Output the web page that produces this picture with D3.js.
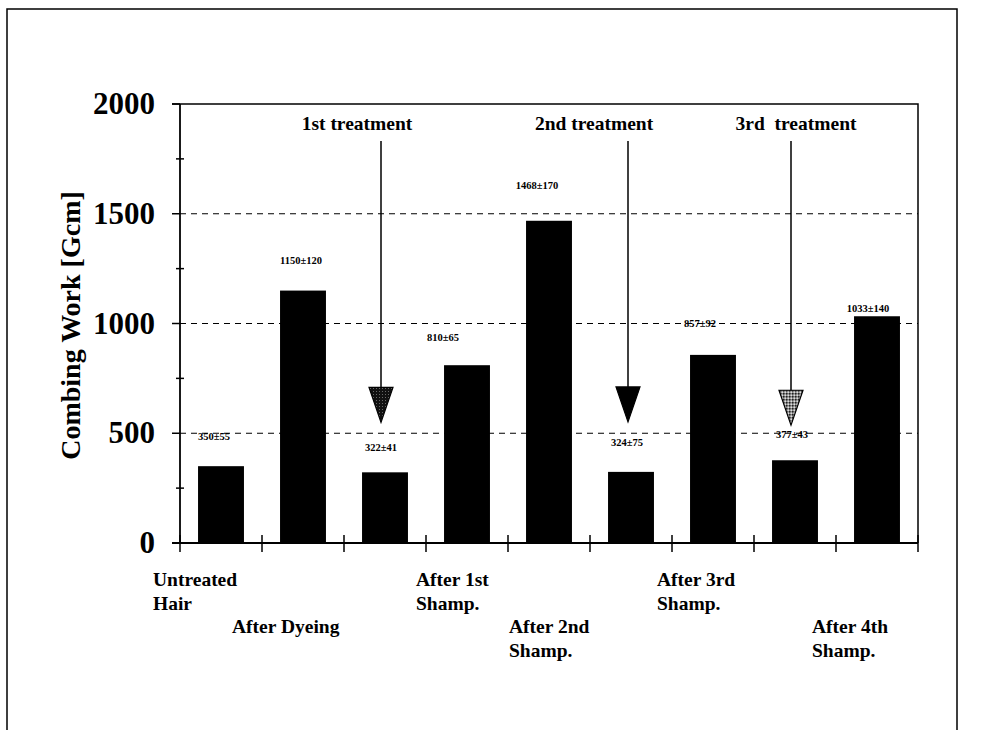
<!DOCTYPE html>
<html lang="en">
<head>
    <meta charset="UTF-8">
    <title>Combing work</title>
    <script src="https://cdn.jsdelivr.net/npm/d3@7.8.5/dist/d3.min.js"></script>
    <style>
        body { margin: 0; background: #fff; }
        text { font-family: "Liberation Serif", "Times New Roman", serif; font-weight: bold; fill: #000; }
    </style>
</head>
<body>
<div id="chart"></div>
<script type="text/javascript">
    // data
    const categories = ["Untreated Hair", "After Dyeing", "1st treatment", "After 1st Shamp.",
        "After 2nd Shamp.", "2nd treatment", "After 3rd Shamp.", "3rd treatment", "After 4th Shamp."];
    const values = [350, 1150, 322, 810, 1468, 324, 857, 377, 1033];
    const errors = [55, 120, 41, 65, 170, 75, 92, 43, 140];
    const tickValues = [0, 500, 1000, 1500, 2000];
    const minorTicks = [250, 750, 1250, 1750];
    // category labels, line by line (empty for treatment steps)
    const catLines = [["Untreated", "Hair"], ["", "", "After Dyeing"], [], ["After 1st", "Shamp."],
        ["", "", "After 2nd", "Shamp."], [], ["After 3rd", "Shamp."], [], ["", "", "After 4th", "Shamp."]];
    const treatments = ["1st treatment", "2nd treatment", "3rd  treatment"];
    const treatmentIdx = [2, 5, 7];

    const width = 985, height = 730;
    const margin = {top: 104, right: 67, bottom: 187, left: 180};

    const svg = d3.select('#chart').append('svg')
        .attr('width', width).attr('height', height);

    // patterns for the arrow heads
    const defs = svg.append('defs');
    const p1 = defs.append('pattern').attr('id', 'dots1').attr('width', 3).attr('height', 3)
        .attr('patternUnits', 'userSpaceOnUse');
    p1.append('rect').attr('width', 3).attr('height', 3).attr('fill', '#111');
    p1.append('rect').attr('x', 1).attr('y', 1).attr('width', 1).attr('height', 1).attr('fill', '#666');
    const p2 = defs.append('pattern').attr('id', 'dots2').attr('width', 3).attr('height', 3)
        .attr('patternUnits', 'userSpaceOnUse');
    p2.append('rect').attr('width', 3).attr('height', 3).attr('fill', '#888');
    p2.append('rect').attr('x', 0).attr('y', 0).attr('width', 1.5).attr('height', 1.5).attr('fill', '#222');
    p2.append('rect').attr('x', 1.5).attr('y', 1.5).attr('width', 1.5).attr('height', 1.5).attr('fill', '#ddd');

    // outer frame
    svg.append('path')
        .attr('d', 'M7,740 V9 H957 V740')
        .attr('fill', 'none').attr('stroke', '#000').attr('stroke-width', 1.5);

    const x = d3.scaleBand()
        .domain(d3.range(categories.length))
        .range([margin.left, width - margin.right])
        .paddingInner(0.44).paddingOuter(0.22);
    const xStep = d3.scaleLinear().domain([0, categories.length])
        .range([margin.left, width - margin.right]);
    const y = d3.scaleLinear().domain([0, 2000])
        .range([height - margin.bottom, margin.top]);

    const g = svg.append('g');

    // dashed gridlines
    g.selectAll('.grid').data([500, 1000, 1500]).enter().append('line')
        .attr('x1', margin.left).attr('x2', width - margin.right)
        .attr('y1', d => y(d)).attr('y2', d => y(d))
        .attr('stroke', '#000').attr('stroke-width', 1.2).attr('stroke-dasharray', '6,5');

    // top and right frame of the plot
    g.append('path')
        .attr('d', `M${margin.left - 8},${y(2000)} H${width - margin.right} V${y(0)}`)
        .attr('fill', 'none').attr('stroke', '#000').attr('stroke-width', 1.5);

    // bars
    g.selectAll('.bar').data(values).enter().append('rect')
        .attr('x', (d, i) => x(i)).attr('width', x.bandwidth())
        .attr('y', d => y(d)).attr('height', d => y(0) - y(d))
        .attr('fill', '#000');

    // value labels (placement follows the original, nudged per bar)
    const labelDx = [-7, -2, -4, -24, -12, -4, -13, -3, -9];
    const labelDy = [-29, -30, -24, -27, -35, -29, -31, -25, -7];
    g.selectAll('.val').data(values).enter().append('text')
        .attr('x', (d, i) => x(i) + x.bandwidth() / 2 + labelDx[i])
        .attr('y', (d, i) => y(d) + labelDy[i] + 3)
        .attr('text-anchor', 'middle').attr('font-size', 10.5)
        .text((d, i) => d + '±' + errors[i]);

    // y axis
    const yAxis = g.append('g').attr('transform', `translate(${margin.left},0)`);
    yAxis.append('line').attr('x1', 0).attr('x2', 0).attr('y1', y(0)).attr('y2', y(2000))
        .attr('stroke', '#000').attr('stroke-width', 1.8);
    yAxis.selectAll('.maj').data(tickValues).enter().append('line')
        .attr('x1', -8).attr('x2', 0).attr('y1', d => y(d)).attr('y2', d => y(d))
        .attr('stroke', '#000').attr('stroke-width', 1.5);
    yAxis.selectAll('.min').data(minorTicks).enter().append('line')
        .attr('x1', -4).attr('x2', 4).attr('y1', d => y(d)).attr('y2', d => y(d))
        .attr('stroke', '#000').attr('stroke-width', 1.5);
    yAxis.selectAll('.tl').data(tickValues).enter().append('text')
        .attr('x', -25).attr('y', d => y(d) + 10)
        .attr('text-anchor', 'end').attr('font-size', 31)
        .text(d => d);

    svg.append('text')
        .attr('transform', `translate(80,${(y(0) + y(2000)) / 2 + 2}) rotate(-90)`)
        .attr('text-anchor', 'middle').attr('font-size', 28)
        .text('Combing Work [Gcm]');

    // x axis
    const xAxis = g.append('g').attr('transform', `translate(0,${y(0)})`);
    xAxis.append('line').attr('x1', margin.left - 8).attr('x2', width - margin.right)
        .attr('stroke', '#000').attr('stroke-width', 1.8);
    xAxis.selectAll('.xt').data(d3.range(categories.length + 1)).enter().append('line')
        .attr('x1', d => xStep(d)).attr('x2', d => xStep(d))
        .attr('y1', -8).attr('y2', 9)
        .attr('stroke', '#000').attr('stroke-width', 1.5);

    // category labels
    const catDx = [-68, -71, 0, -51, -40, 0, -56, 0, -65];
    catLines.forEach((lines, i) => {
        const t = svg.append('text').attr('font-size', 19.5);
        lines.forEach((s, k) => {
            t.append('tspan')
                .attr('x', x(i) + x.bandwidth() / 2 + catDx[i])
                .attr('y', 586 + k * 23.5)
                .text(s);
        });
    });

    // treatment arrows
    const arrowDx = [-4, -3, -4];
    const titleDx = [-24, -34, 5];
    const fills = ['url(#dots1)', '#000', 'url(#dots2)'];
    treatmentIdx.forEach((ci, k) => {
        const cx = x(ci) + x.bandwidth() / 2 + arrowDx[k];
        const tip = y(values[ci]) + (k === 2 ? -35 : -50);
        g.append('line').attr('x1', cx).attr('x2', cx)
            .attr('y1', 141).attr('y2', tip - 33)
            .attr('stroke', '#000').attr('stroke-width', 1.5);
        g.append('path')
            .attr('d', `M${cx - 12},${tip - 35} L${cx + 12},${tip - 35} L${cx},${tip} Z`)
            .attr('fill', fills[k]).attr('stroke', '#000').attr('stroke-width', 1.2);
        svg.append('text')
            .attr('x', cx + titleDx[k]).attr('y', 130)
            .attr('text-anchor', 'middle').attr('font-size', 19.5)
            .attr('xml:space', 'preserve')
            .text(treatments[k]);
    });
</script>
</body>
</html>
